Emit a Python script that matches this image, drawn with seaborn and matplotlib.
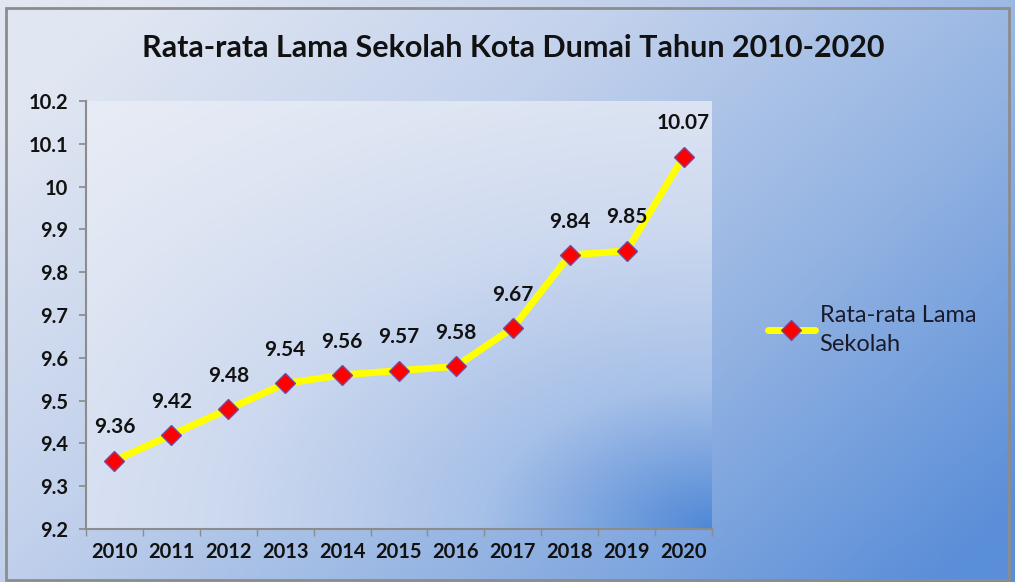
import numpy as np
import matplotlib
matplotlib.use("Agg")
import matplotlib.pyplot as plt
from matplotlib.colors import LinearSegmentedColormap
from matplotlib.patches import Rectangle
import seaborn as sns

#data
years = ['2010', '2011', '2012', '2013', '2014', '2015', '2016', '2017', '2018', '2019', '2020']
rls = [9.36, 9.42, 9.48, 9.54, 9.56, 9.57, 9.58, 9.67, 9.84, 9.85, 10.07]
series_name = 'Rata-rata Lama\nSekolah'
title = 'Rata-rata Lama Sekolah Kota Dumai Tahun 2010-2020'

sns.set_theme(style='white')
plt.rcParams['font.family'] = ['Lato', 'DejaVu Sans']

fig = plt.figure(figsize=(10.15, 5.82), dpi=100)

#gradient background for the whole chart
cmap = LinearSegmentedColormap.from_list('bg', ['#e0e6f2', '#c2d1ec', '#93b3e2', '#5a8ed8'])
bg = fig.add_axes([0, 0, 1, 1])
xx, yy = np.meshgrid(np.linspace(0, 1, 300), np.linspace(0, 1, 200))
grad = np.clip(0.7 * xx + 0.45 * yy - 0.1, 0, 1)
bg.imshow(grad, cmap=cmap, aspect='auto', extent=[0, 1, 0, 1], origin='upper')
bg.set_xlim(0, 1)
bg.set_ylim(0, 1)
bg.axis('off')
bg.add_patch(Rectangle((0.006, 0.003), 0.988, 0.983, fill=False, edgecolor='#8c8c8c', lw=2))

#plot area, darker toward the bottom right corner
ax = fig.add_axes([86 / 1015, 53 / 582, 626 / 1015, 428 / 582])
cmap2 = LinearSegmentedColormap.from_list('pa', ['#e6ebf5', '#cdd9ef', '#a6c0e8', '#4f88d6'])
dist = np.sqrt(((1 - xx) * 1.0) ** 2 + ((1 - yy) * 1.1) ** 2)
grad2 = np.clip(1 - dist / 1.45, 0, 1) ** 1.4
ax.imshow(grad2, cmap=cmap2, aspect='auto', extent=[-0.5, 10.5, 9.2, 10.2], origin='upper', zorder=0)

pos = np.arange(len(years))
sns.lineplot(x=pos, y=rls, ax=ax, color='#ffff00', lw=5, marker='D', markersize=10,
             markerfacecolor='#ff0000', markeredgecolor='#7a4a9a', markeredgewidth=1,
             label=series_name, zorder=3)

for x, v in zip(pos, rls):
    ax.annotate(f'{v:g}', (x, v), xytext=(0, 24), textcoords='offset points',
                ha='center', va='center', fontsize=15, fontweight='bold', color='#111111')

ax.set_xlim(-0.5, 10.5)
ax.set_ylim(9.2, 10.2)
ax.set_yticks(np.arange(9.2, 10.21, 0.1))
ax.set_yticklabels(['9.2', '9.3', '9.4', '9.5', '9.6', '9.7', '9.8', '9.9', '10', '10.1', '10.2'])
ax.set_xticks(pos)
ax.set_xticklabels(years)
ax.set_xticks(np.arange(-0.5, 10.6, 1), minor=True)
ax.tick_params(axis='x', which='major', length=0, pad=9, labelsize=14.5)
ax.tick_params(axis='x', which='minor', length=5, color='#8c8c8c', direction='out', bottom=True)
ax.tick_params(axis='y', length=5, color='#8c8c8c', direction='out', left=True, pad=8, labelsize=14.5)
for lab in ax.get_xticklabels() + ax.get_yticklabels():
    lab.set_fontweight('bold')
    lab.set_color('#111111')
for s in ['top', 'right']:
    ax.spines[s].set_visible(False)
for s in ['left', 'bottom']:
    ax.spines[s].set_color('#8c8c8c')
    ax.spines[s].set_linewidth(1.5)
ax.set_xlabel('')
ax.set_ylabel('')

leg = ax.legend(loc='center left', bbox_to_anchor=(1.055, 0.465), frameon=False,
                fontsize=17, handlelength=2.0, handletextpad=0.2)
for t in leg.get_texts():
    t.set_color('#1a1a2a')
    t.set_linespacing(1.5)

fig.text(0.506, 0.918, title, ha='center', va='center', fontsize=22, fontweight='bold', color='#111111')

fig.savefig('out.png', dpi=100)
